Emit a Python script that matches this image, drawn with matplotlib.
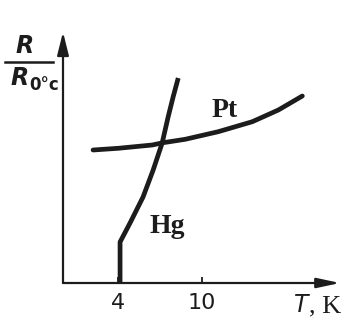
import matplotlib
matplotlib.use("Agg")
import matplotlib.pyplot as plt
from matplotlib.lines import Line2D

# Data
hg_T = [4.12, 4.12, 4.84, 5.78, 6.51, 7.16, 7.59, 7.95, 8.32]
hg_R = [0.0, 4.1, 6.0, 8.6, 11.3, 14.0, 16.6, 18.6, 20.5]
pt_T = [2.17, 3.98, 6.44, 7.23, 8.82, 11.21, 13.67, 15.55, 17.28]
pt_R = [13.3, 13.47, 13.8, 14.03, 14.37, 15.13, 16.13, 17.3, 18.7]
xtick_vals = [4, 10]
xtick_labels = ["4", "10"]

ink = "#1c1c1c"
W, H = 364, 334
fig = plt.figure(figsize=(W / 100, H / 100), dpi=100)
ax = fig.add_axes([63 / W, (H - 283) / H, (340 - 63) / W, 251 / H])
ax.set_xlim(0, 20)
ax.set_ylim(0, 25.1)
for s in ax.spines.values():
    s.set_visible(False)
ax.set_yticks([])

ax.plot(hg_T, hg_R, color=ink, lw=3.4, solid_capstyle="butt", solid_joinstyle="round")
ax.plot(pt_T, pt_R, color=ink, lw=3.4, solid_capstyle="round", solid_joinstyle="round")

# axes arrows
ax.annotate("", xy=(0, 1), xytext=(0, 0), xycoords="axes fraction",
            arrowprops=dict(arrowstyle="-|>,head_length=1.4,head_width=0.35",
                            lw=1.6, color=ink, shrinkA=0, shrinkB=0), annotation_clip=False)
ax.annotate("", xy=(1, 0), xytext=(0, 0), xycoords="axes fraction",
            arrowprops=dict(arrowstyle="-|>,head_length=1.4,head_width=0.3",
                            lw=1.6, color=ink, shrinkA=0, shrinkB=0), annotation_clip=False)

sans = ["DejaVu Sans"]
ax.set_xticks(xtick_vals)
ax.set_xticklabels(xtick_labels, family=sans, fontsize=16, color=ink)
ax.tick_params(axis="x", direction="in", length=4, width=1.3, color=ink, pad=7)

# curve labels
serif = ["Liberation Serif", "DejaVu Serif"]
ax.text(11.65, 16.6, "Pt", family=serif, weight="bold", fontsize=20,
        ha="center", va="baseline", color=ink)
ax.text(7.5, 5.0, "Hg", family=serif, weight="bold", fontsize=20,
        ha="center", va="baseline", color=ink)

# x axis label
fig.text(301 / W, 1 - 312 / H, "T", family=sans, style="italic", fontsize=17,
         ha="center", va="baseline", color=ink)
fig.text(309 / W, 1 - 312 / H, ", K", family=serif, fontsize=19,
         ha="left", va="baseline", color=ink)

# y axis label: R / R_0°c
fig.text(25 / W, 1 - 53 / H, "R", family=sans, style="italic", weight="bold",
         fontsize=17, ha="center", va="baseline", color=ink)
fig.add_artist(Line2D([5 / W, 53 / W], [1 - 62 / H, 1 - 62 / H], color=ink, lw=1.8))
fig.text(20 / W, 1 - 85 / H, "R", family=sans, style="italic", weight="bold",
         fontsize=17, ha="center", va="baseline", color=ink)
fig.text(29 / W, 1 - 90 / H, "0°c", family=sans, weight="bold",
         fontsize=12, ha="left", va="baseline", color=ink)

fig.savefig("out.png", dpi=100, facecolor="white")
